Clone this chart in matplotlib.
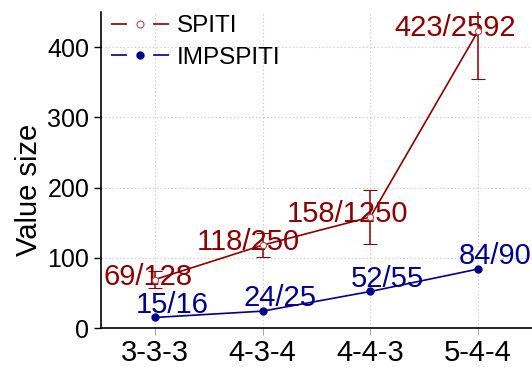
import matplotlib.pyplot as plt
from matplotlib.lines import Line2D
import numpy as np

plt.rcParams['font.family'] = ['Liberation Sans', 'DejaVu Sans']
plt.rcParams['lines.scale_dashes'] = False

# data
categories = ['3-3-3', '4-3-4', '4-4-3', '5-4-4']
spiti = [69, 118, 158, 423]
spitiErr = [12, 17, 39, 68]
spitiLabels = ['69/128', '118/250', '158/1250', '423/2592']
impspiti = [15, 24, 52, 84]
impspitiLabels = ['15/16', '24/25', '52/55', '84/90']

red = '#8b0000'
blue = '#00008b'

fig = plt.figure(figsize=(5.32, 3.67), dpi=100)
ax = fig.add_axes([101 / 532, 39 / 367, 1 - 101 / 532, (328 - 12) / 367])

x = np.arange(len(categories))

ax.errorbar(x, spiti, yerr=spitiErr, color=red, lw=1.2, capsize=5,
            elinewidth=1.1, marker='o', ms=4.5, mfc='white', mec='#b05050',
            mew=0.8, zorder=3)
ax.plot(x, impspiti, color=blue, lw=1.2, marker='o', ms=5, mfc=blue,
        mec=blue, zorder=3)

# value labels
for xi, yi, lab in zip(x, spiti, spitiLabels):
    ax.annotate(lab, (xi, yi), xytext=(27, -3.6), textcoords='offset points',
                ha='right', va='baseline', color=red, fontsize=21)
for xi, yi, lab in zip(x, impspiti, impspitiLabels):
    ax.annotate(lab, (xi, yi), xytext=(-14, 3.5), textcoords='offset points',
                ha='left', va='baseline', color=blue, fontsize=21)

ax.set_xlim(-0.5, 3.5)
ax.set_ylim(0, 450)
ax.set_xticks(x)
ax.set_xticklabels(categories)
ax.set_yticks([0, 100, 200, 300, 400])
ax.tick_params(axis='x', labelsize=21, length=5, color='#aaaaaa', pad=3)
ax.tick_params(axis='y', labelsize=18, length=5, width=1)
ax.set_ylabel('Value size', fontsize=21)
ax.yaxis.set_label_coords(-0.135, 0.437)

ax.grid(True, ls=':', color='#cccccc', lw=0.8)
ax.set_axisbelow(True)
for s in ['top', 'right']:
    ax.spines[s].set_visible(False)
ax.spines['left'].set_linewidth(1.2)
ax.spines['bottom'].set_linewidth(1.2)

# legend handles: line - gap - marker - gap - line
gapped = (0, (11.5, 18.8, 11.5, 100))
handles = [
    Line2D([], [], color=red, lw=1.2, ls=gapped, marker='o', ms=5,
           mfc='white', mec='#b05050', mew=0.8),
    Line2D([], [], color=blue, lw=1.2, ls=gapped, marker='o', ms=5,
           mfc=blue, mec=blue),
]
ax.legend(handles, ['SPITI', 'IMPSPITI'], loc='upper left', frameon=False,
          fontsize=17.5, handlelength=2.39, numpoints=1, borderpad=0,
          borderaxespad=0, labelspacing=0.39, handletextpad=0.33,
          bbox_to_anchor=(10 / 431, 0.99))

fig.savefig('out.png', dpi=100)
